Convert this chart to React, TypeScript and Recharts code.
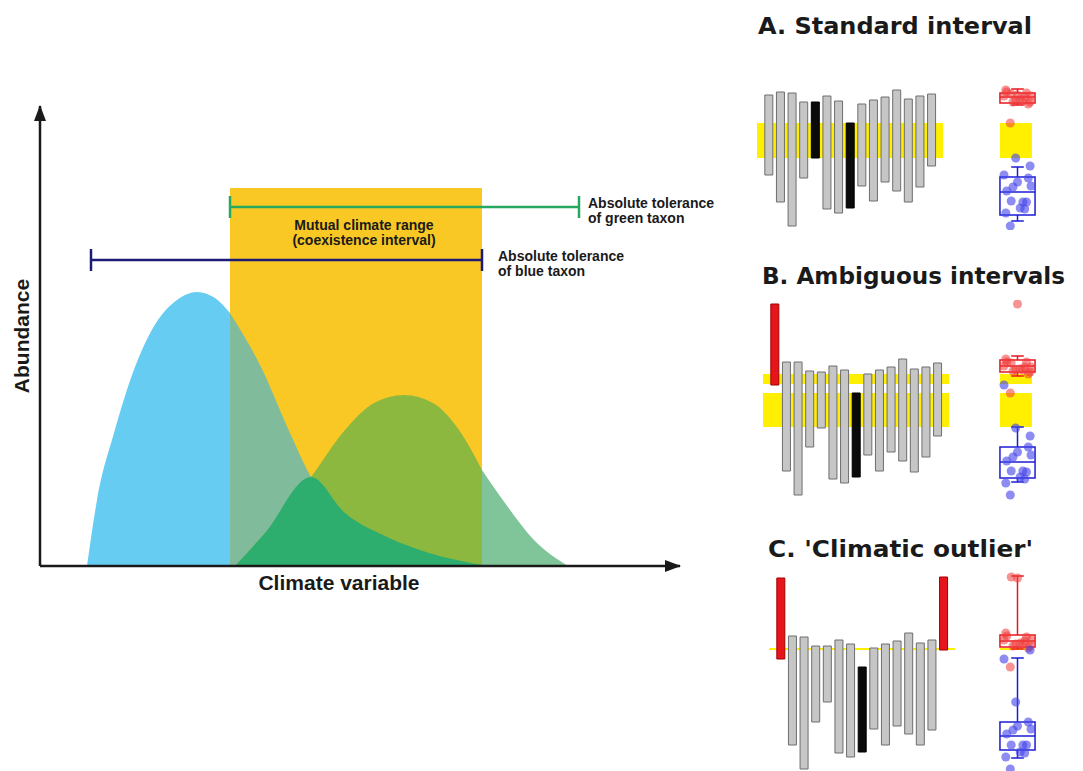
import React from 'react';
import {
  ComposedChart, Area, Bar, Cell, Scatter, XAxis, YAxis,
  ReferenceArea, ReferenceLine, ReferenceDot,
} from 'recharts';

// ---- left panel: abundance of two taxa along a climate variable ----
const blueClimate = [4.7, 5.7, 7.4, 9.5, 11.6, 13.7, 15.7, 17.5, 19.0, 22.1, 25.0, 27.1, 30.5, 34.7, 38.9, 44.2];
const blueAbundance = [0, 6.6, 13.3, 19.9, 24.3, 26.6, 27.4, 26.8, 25.3, 19.9, 13.3, 8.9, 5.3, 2.9, 1.3, 0.1];
const greenClimate = [19.5, 22.5, 27.1, 30.5, 33.4, 36.4, 39.3, 41.9, 44.2, 46.5, 49.4, 52.8];
const greenAbundance = [0, 3.3, 8.9, 13.6, 16.3, 17.1, 16.3, 13.6, 9.6, 6.3, 2.6, 0];
const curvesMeet = 27.1;

const taxa = ['blue', 'green'];
const toleranceMin = [5.1, 19.0];
const toleranceMax = [44.2, 53.9];
const toleranceLevel = [30.6, 35.9];
const toleranceLabels = [['Absolute tolerance', 'of blue taxon'], ['Absolute tolerance', 'of green taxon']];
const coexistenceTop = 37.8;
const coexistenceLabel = ['Mutual climate range', '(coexistence interval)'];

// ---- right panels: tolerance ranges of 15 taxa + box plots of their limits ----
const panelTitles = ['A. Standard interval', 'B. Ambiguous intervals', "C. 'Climatic outlier'"];

const upperA = [135, 138, 137, 128, 128, 134, 129, 107, 126, 130, 133, 140, 131, 134, 136];
const lowerA = [55, 28, 4, 52, 72, 21, 17, 22, 44, 29, 48, 39, 28, 43, 64];
const kindA = ['g', 'g', 'g', 'g', 'k', 'g', 'g', 'k', 'g', 'g', 'g', 'g', 'g', 'g', 'g'];
const bandsA = [[72, 107]];
const upperBoxA = [125, 127, 133, 137, 141];
const lowerBoxA = [9, 15, 38, 53, 63];

const upperB = [196, 138, 138, 129, 128, 134, 130, 107, 126, 130, 133, 141, 131, 133, 137];
const lowerB = [115, 29, 5, 53, 72, 21, 17, 23, 45, 29, 48, 39, 28, 43, 64];
const kindB = ['r', 'g', 'g', 'g', 'g', 'g', 'g', 'k', 'g', 'g', 'g', 'g', 'g', 'g', 'g'];
const bandsB = [[116, 126], [73, 107]];
const upperBoxB = [124, 128, 134, 140, 144];
const lowerBoxB = [18, 22, 38, 53, 73];

const upperC = [193, 135, 134, 125, 125, 131, 127, 104, 123, 127, 130, 138, 128, 131, 194];
const lowerC = [112, 26, 2, 49, 69, 18, 14, 19, 42, 26, 45, 37, 26, 41, 121];
const kindC = ['r', 'g', 'g', 'g', 'g', 'g', 'g', 'k', 'g', 'g', 'g', 'g', 'g', 'g', 'r'];
const bandsC = [[121, 123]];
const upperBoxC = [122, 124, 130, 136, 195];
const lowerBoxC = [13, 21, 35, 49, 113];

const sans = '"Liberation Sans", Arial, sans-serif';

// build the curve table, split at the edges of the coexistence interval
const rangeLo = Math.max(...toleranceMin);
const rangeHi = Math.min(...toleranceMax);
const climateSteps = Array.from(new Set([...blueClimate, ...greenClimate, rangeLo, rangeHi])).sort((a, b) => a - b);
const curveRows = climateSteps.map((x) => {
  const bi = blueClimate.indexOf(x);
  const gi = greenClimate.indexOf(x);
  const b = bi >= 0 ? blueAbundance[bi] : null;
  const g = gi >= 0 ? greenAbundance[gi] : null;
  const inside = x >= rangeLo && x <= rangeHi;
  return {
    x,
    coexist: x === rangeLo || x === rangeHi ? coexistenceTop : null,
    blueOut: b !== null && x <= rangeLo ? b : null,
    blueIn: b !== null && inside ? b : null,
    greenIn: g !== null && inside ? g : null,
    greenOut: g !== null && x >= rangeHi ? g : null,
    shared: inside ? (x <= curvesMeet ? g : b) : null,
  };
});

const stackedText = (lines: string[], anchor: 'start' | 'middle', gap: number) => (props: any) => {
  const vb = props.viewBox || {};
  const x = vb.x ?? 0;
  const y = vb.y ?? 0;
  return (
    <text x={x} y={y} textAnchor={anchor} fontFamily={sans} fontWeight="bold" fontSize={14} fill="#1a1a1a">
      {lines.map((line, i) => (
        <tspan key={i} x={x} dy={i ? gap : 0}>{line}</tspan>
      ))}
    </text>
  );
};

const taxonColor: Record<string, string> = { blue: '#1C1C78', green: '#27A85E' };

const LeftChart = () => (
  <ComposedChart width={760} height={600} data={curveRows} margin={{ top: 106, right: 80, bottom: 4, left: 10 }}>
    <XAxis
      dataKey="x" type="number" domain={[0, 64]} tick={false} tickLine={false}
      axisLine={{ stroke: '#1a1a1a', strokeWidth: 2.5, markerEnd: 'url(#axisArrow)' }}
      label={{ value: 'Climate variable', position: 'center', dx: -21, dy: 2, fontSize: 21, fontWeight: 'bold', fill: '#1a1a1a', fontFamily: sans }}
    />
    <YAxis
      type="number" domain={[0, 46]} width={30} tick={false} tickLine={false}
      axisLine={{ stroke: '#1a1a1a', strokeWidth: 2.5, markerStart: 'url(#axisArrow)' }}
      label={{ value: 'Abundance', angle: -90, position: 'center', dx: -3, fontSize: 21, fontWeight: 'bold', fill: '#1a1a1a', fontFamily: sans }}
    />
    <Area dataKey="coexist" type="linear" connectNulls fill="#F9C824" fillOpacity={1} stroke="none" isAnimationActive={false} />
    <Area dataKey="blueOut" type="monotone" connectNulls fill="#66CCF1" fillOpacity={1} stroke="none" isAnimationActive={false} />
    <Area dataKey="blueIn" type="monotone" connectNulls fill="#80BB9C" fillOpacity={1} stroke="none" isAnimationActive={false} />
    <Area dataKey="greenIn" type="monotone" connectNulls fill="#8CB840" fillOpacity={1} stroke="none" isAnimationActive={false} />
    <Area dataKey="greenOut" type="monotone" connectNulls fill="#80C59A" fillOpacity={1} stroke="none" isAnimationActive={false} />
    <Area dataKey="shared" type="monotone" connectNulls fill="#2DAE6F" fillOpacity={1} stroke="none" isAnimationActive={false} />
    {taxa.map((t, i) => (
      <ReferenceLine key={`bar-${t}`} segment={[{ x: toleranceMin[i], y: toleranceLevel[i] }, { x: toleranceMax[i], y: toleranceLevel[i] }]}
        stroke={taxonColor[t]} strokeWidth={2.5} />
    ))}
    {taxa.map((t, i) => (
      <ReferenceLine key={`capl-${t}`} segment={[{ x: toleranceMin[i], y: toleranceLevel[i] - 1.1 }, { x: toleranceMin[i], y: toleranceLevel[i] + 1.1 }]}
        stroke={taxonColor[t]} strokeWidth={2.5} />
    ))}
    {taxa.map((t, i) => (
      <ReferenceLine key={`capr-${t}`} segment={[{ x: toleranceMax[i], y: toleranceLevel[i] - 1.1 }, { x: toleranceMax[i], y: toleranceLevel[i] + 1.1 }]}
        stroke={taxonColor[t]} strokeWidth={2.5} />
    ))}
    {taxa.map((t, i) => (
      <ReferenceDot key={`lab-${t}`} x={toleranceMax[i] + (t === 'blue' ? 1.6 : 0.9)} y={toleranceLevel[i] - 0.1}
        r={0} fill="none" stroke="none" label={stackedText(toleranceLabels[i], 'start', 15)} />
    ))}
    <ReferenceDot x={(rangeLo + rangeHi) / 2 + 0.8} y={coexistenceTop - 4.2} r={0} fill="none" stroke="none"
      label={stackedText(coexistenceLabel, 'middle', 15)} />
  </ComposedChart>
);

const barFill: Record<string, string> = { g: '#C6C6C6', k: '#0A0A0A', r: '#E5151B' };
const barStroke: Record<string, string> = { g: '#6E6E6E', k: '#000000', r: '#A30000' };
const jitter = [0, -0.24, 0.2, -0.1, 0.28, -0.3, 0.12, -0.16, 0.24, -0.04, 0.16, -0.26, 0.06, 0.3, -0.14];

type PanelProps = {
  title: string; titleX: number; titleY: number; titleWidth: number; top: number; height: number; barsLeft: number;
  upper: number[]; lower: number[]; kind: string[]; bands: number[][]; upperBox: number[]; lowerBox: number[];
};

const boxParts = (stats: number[], color: string, key: string) => {
  const [lo, q1, med, q3, hi] = stats;
  return [
    <ReferenceLine key={`${key}-wh`} segment={[{ x: 0.5, y: q3 }, { x: 0.5, y: hi }]} stroke={color} strokeWidth={1.5} />,
    <ReferenceLine key={`${key}-wl`} segment={[{ x: 0.5, y: lo }, { x: 0.5, y: q1 }]} stroke={color} strokeWidth={1.5} />,
    <ReferenceLine key={`${key}-ch`} segment={[{ x: 0.36, y: hi }, { x: 0.64, y: hi }]} stroke={color} strokeWidth={1.5} />,
    <ReferenceLine key={`${key}-cl`} segment={[{ x: 0.36, y: lo }, { x: 0.64, y: lo }]} stroke={color} strokeWidth={1.5} />,
    <ReferenceArea key={`${key}-box`} x1={0.11} x2={0.89} y1={q1} y2={q3} fill="#ffffff" fillOpacity={0} stroke={color} strokeWidth={1.5} />,
    <ReferenceLine key={`${key}-md`} segment={[{ x: 0.11, y: med }, { x: 0.89, y: med }]} stroke={color} strokeWidth={1.5} />,
  ];
};

const IntervalPanel = (p: PanelProps) => {
  const rows = p.upper.map((u, i) => ({ idx: i, range: [p.lower[i], u] }));
  const upperPts = p.upper.map((v, i) => ({ x: 0.5 + jitter[i], v }));
  const lowerPts = p.lower.map((v, i) => ({ x: 0.5 + jitter[(i + 5) % jitter.length], v }));
  return (
    <>
      <svg style={{ position: 'absolute', left: 0, top: 0 }} width={1083} height={p.titleY + 8}>
        <text x={p.titleX} y={p.titleY} fontFamily='"DejaVu Sans", Verdana, sans-serif' fontWeight="bold" fontSize={23}
          fill="#1a1a1a" textLength={p.titleWidth} lengthAdjust="spacingAndGlyphs">
          {p.title}
        </text>
      </svg>
      <div style={{ position: 'absolute', left: p.barsLeft, top: p.top }}>
        <ComposedChart width={186} height={p.height} data={rows} margin={{ top: 0, right: 0, bottom: 0, left: 0 }}>
          <XAxis dataKey="idx" type="number" domain={[-1, 15]} hide />
          <YAxis type="number" domain={[0, p.height]} hide />
          {p.bands.map(([lo, hi], i) => (
            <ReferenceArea key={i} x1={-1} x2={15} y1={lo} y2={hi} fill="#FFEF00" fillOpacity={1} stroke="none" />
          ))}
          <Bar dataKey="range" barSize={8} isAnimationActive={false}>
            {rows.map((r, i) => (
              <Cell key={i} fill={barFill[p.kind[i]]} stroke={barStroke[p.kind[i]]} strokeWidth={1} />
            ))}
          </Bar>
        </ComposedChart>
      </div>
      <div style={{ position: 'absolute', left: 995, top: p.top }}>
        <ComposedChart width={45} height={p.height} margin={{ top: 0, right: 0, bottom: 0, left: 0 }}>
          <XAxis dataKey="x" type="number" domain={[0, 1]} hide />
          <YAxis dataKey="v" type="number" domain={[0, p.height]} hide />
          {p.bands.map(([lo, hi], i) => (
            <ReferenceArea key={i} x1={0.11} x2={0.82} y1={lo} y2={hi} fill="#FFEF00" fillOpacity={1} stroke="none" />
          ))}
          {boxParts(p.upperBox, '#E8161C', 'up')}
          {boxParts(p.lowerBox, '#1C1CD6', 'low')}
          <Scatter data={upperPts} fill="#F03A3A" fillOpacity={0.55} isAnimationActive={false} />
          <Scatter data={lowerPts} fill="#4646EA" fillOpacity={0.62} isAnimationActive={false} />
        </ComposedChart>
      </div>
    </>
  );
};

export default function App() {
  return (
    <div style={{ position: 'absolute', left: 0, top: 0, width: 1083, height: 771, background: '#fff', overflow: 'hidden' }}>
      <svg width={0} height={0} style={{ position: 'absolute' }}>
        <defs>
          <marker id="axisArrow" viewBox="0 0 16 12" refX={15} refY={6} markerWidth={16} markerHeight={12}
            markerUnits="userSpaceOnUse" orient="auto-start-reverse">
            <path d="M0,0 L16,6 L0,12 z" fill="#1a1a1a" />
          </marker>
        </defs>
      </svg>
      <div style={{ position: 'absolute', left: 0, top: 0 }}>
        <LeftChart />
      </div>
      <IntervalPanel title={panelTitles[0]} titleX={758} titleY={34} titleWidth={274} top={85} height={145} barsLeft={757}
        upper={upperA} lower={lowerA} kind={kindA} bands={bandsA} upperBox={upperBoxA} lowerBox={lowerBoxA} />
      <IntervalPanel title={panelTitles[1]} titleX={762} titleY={284} titleWidth={303} top={300} height={200} barsLeft={763}
        upper={upperB} lower={lowerB} kind={kindB} bands={bandsB} upperBox={upperBoxB} lowerBox={lowerBoxB} />
      <IntervalPanel title={panelTitles[2]} titleX={768} titleY={557} titleWidth={265} top={571} height={200} barsLeft={769}
        upper={upperC} lower={lowerC} kind={kindC} bands={bandsC} upperBox={upperBoxC} lowerBox={lowerBoxC} />
    </div>
  );
}
